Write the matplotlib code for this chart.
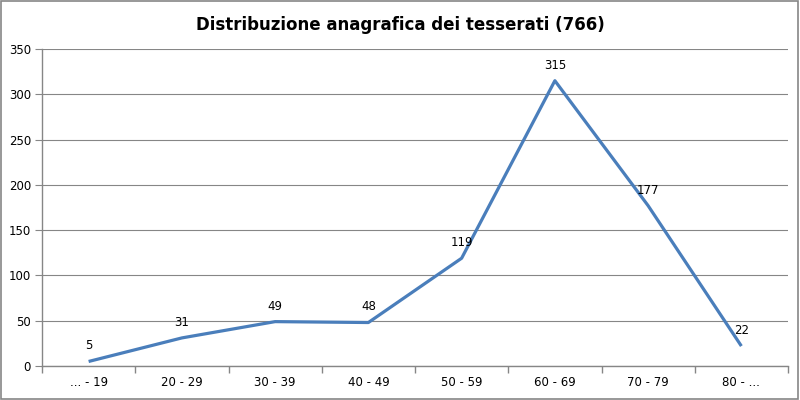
import matplotlib
matplotlib.use("Agg")
import matplotlib.pyplot as plt
import numpy as np
from matplotlib.patches import Rectangle

categories = ["... - 19", "20 - 29", "30 - 39", "40 - 49", "50 - 59", "60 - 69", "70 - 79", "80 - ..."]
values = [5, 31, 49, 48, 119, 315, 177, 22]
yticks = [0, 50, 100, 150, 200, 250, 300, 350]
title = "Distribuzione anagrafica dei tesserati (766)"

plt.rcParams['font.family'] = ['DejaVu Sans']
fig = plt.figure(figsize=(8, 4), dpi=100)
ax = fig.add_axes([0.0525, 0.085, 0.9325, 0.7925])

x = np.arange(len(categories))
ax.plot(x, values, color="#4a7ebb", lw=2.3, solid_capstyle="butt", zorder=3)
for xi, v in zip(x, values):
    ax.annotate(str(v), (xi, v), xytext=(0, 6.5), textcoords="offset points",
                ha="center", va="bottom", fontsize=8.5, color="black")

ax.set_xlim(-0.5, len(categories) - 0.5)
ax.set_ylim(0, 350)
ax.set_yticks(yticks)
ax.set_xticks(x)
ax.set_xticklabels(categories, fontsize=8.5)
ax.tick_params(axis="x", which="major", length=0, pad=7)
ax.set_xticks(np.arange(-0.5, len(categories), 1), minor=True)
ax.tick_params(axis="x", which="minor", length=5, color="#868686", width=1)
ax.tick_params(axis="y", length=5, color="#868686", labelsize=8.5, pad=3)
ax.grid(axis="y", color="#868686", lw=0.8)
ax.set_axisbelow(True)
for s in ["top", "right"]:
    ax.spines[s].set_visible(False)
for s in ["left", "bottom"]:
    ax.spines[s].set_color("#868686")
    ax.spines[s].set_linewidth(1)

fig.text(0.5, 0.938, title, ha="center", va="center", fontsize=12, fontweight="bold")
fig.patches.append(Rectangle((0.001, 0.002), 0.997, 0.995, transform=fig.transFigure,
                             fill=False, edgecolor="#868686", lw=1.2))
fig.savefig("out.png", dpi=100)
